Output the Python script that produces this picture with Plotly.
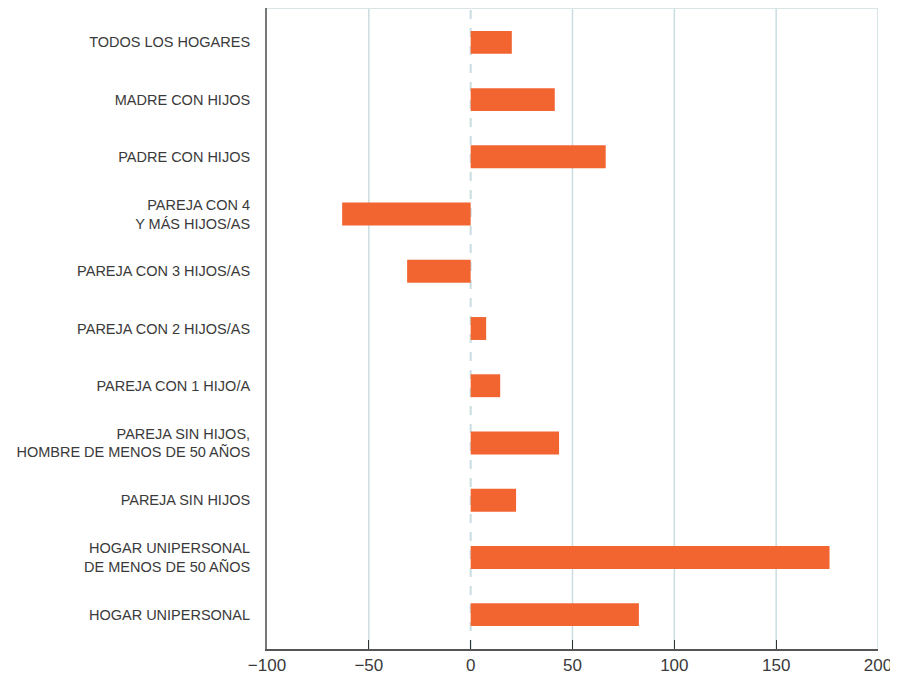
import plotly.graph_objects as go

categories = [
    "TODOS LOS HOGARES",
    "MADRE CON HIJOS",
    "PADRE CON HIJOS",
    "PAREJA CON 4<br>Y MÁS HIJOS/AS",
    "PAREJA CON 3 HIJOS/AS",
    "PAREJA CON 2 HIJOS/AS",
    "PAREJA CON 1 HIJO/A",
    "PAREJA SIN HIJOS,<br>HOMBRE DE MENOS DE 50 AÑOS",
    "PAREJA SIN HIJOS",
    "HOGAR UNIPERSONAL<br>DE MENOS DE 50 AÑOS",
    "HOGAR UNIPERSONAL",
]
values = [20.2, 41.3, 66.3, -63.1, -31.2, 7.6, 14.5, 43.4, 22.3, 176.2, 82.6]
x_ticks = [-100, -50, 0, 50, 100, 150, 200]

fig = go.Figure()
fig.add_trace(go.Bar(
    y=categories, x=values, orientation="h",
    marker=dict(color="#F26531", line=dict(width=0)),
    width=0.4,
))

# gridlines (solid, except dashed at zero)
for v in x_ticks:
    if v == -100:
        continue
    fig.add_shape(type="line", xref="x", yref="paper", x0=v, x1=v, y0=0, y1=1,
                  line=dict(color="#C9DDE1", width=2 if v == 0 else 1.5,
                            dash="dash" if v == 0 else "solid"),
                  layer="below")
fig.add_shape(type="line", xref="paper", yref="paper", x0=0, x1=1, y0=1, y1=1,
              line=dict(color="#D8E4E6", width=2))

fig.update_layout(
    width=890, height=667,
    margin=dict(l=259, r=20, t=0, b=26),
    plot_bgcolor="white", paper_bgcolor="white",
    showlegend=False,
    font=dict(family="Liberation Sans", color="#3a3a3a"),
    xaxis=dict(
        range=[-100, 200], tickvals=x_ticks,
        showgrid=False, zeroline=False,
        showline=True, linecolor="#555555", linewidth=1.5,
        ticks="inside", ticklen=9, tickcolor="#333333", tickwidth=1,
        tickfont=dict(size=17, color="#3a3a3a"),
    ),
    yaxis=dict(
        type="category", categoryorder="array", categoryarray=categories,
        range=[10.6, -0.6],
        showgrid=False, zeroline=False,
        showline=True, linecolor="#777777", linewidth=2,
        ticks="", ticklabelstandoff=12,
        tickfont=dict(size=14.5, color="#3a3a3a"),
    ),
)

fig.write_html("out.html")
